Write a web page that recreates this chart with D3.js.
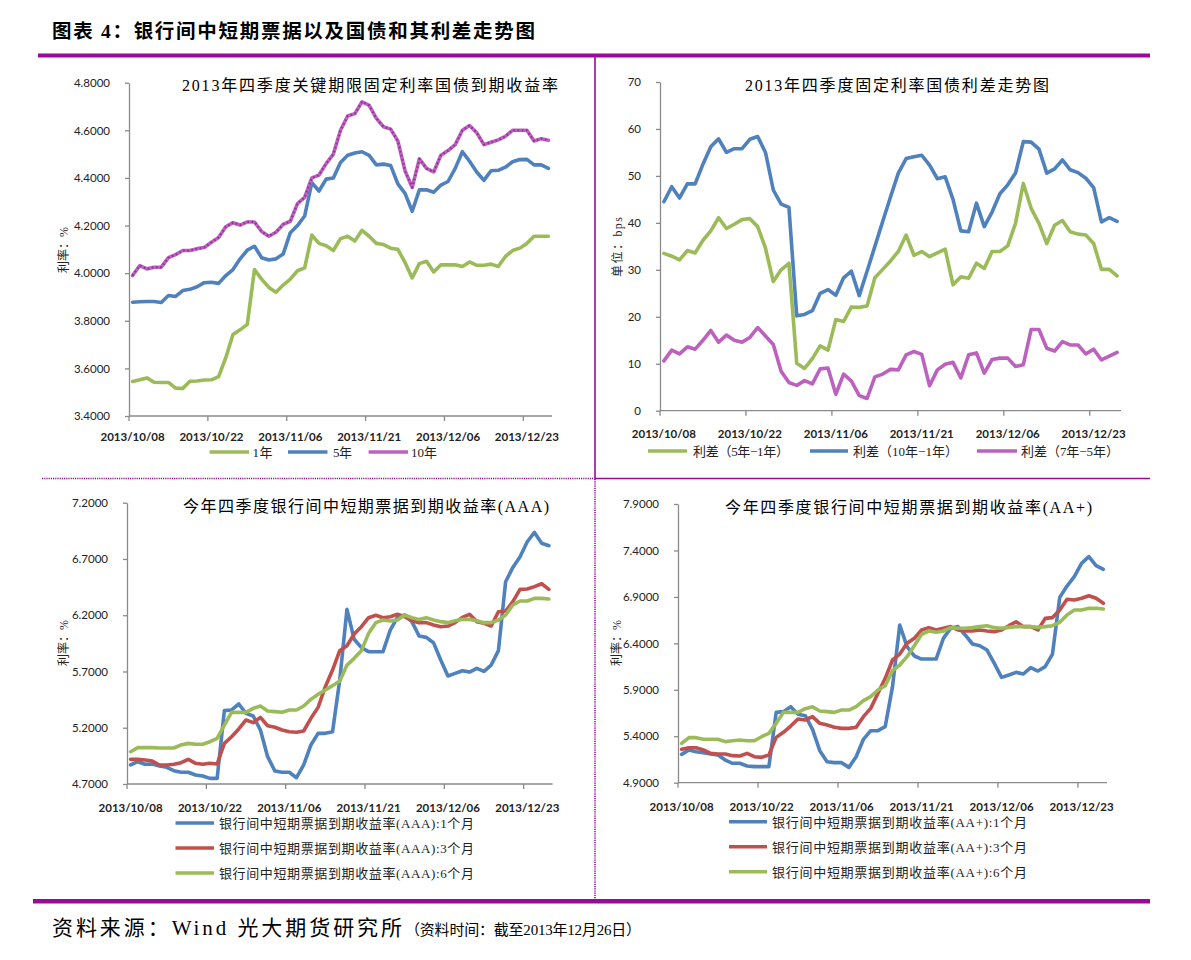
<!DOCTYPE html>
<html><head><meta charset="utf-8">
<script src="https://cdn.jsdelivr.net/npm/d3@7/dist/d3.min.js"></script>
<style>body{margin:0;background:#fff}svg{display:block}</style>
</head><body>
<svg id="c" width="1191" height="960"></svg>
<script>
// ---------------- DATA ----------------
const dates = ["2013/10/08","2013/10/09","2013/10/10","2013/10/11","2013/10/12","2013/10/14","2013/10/15","2013/10/16","2013/10/17","2013/10/18","2013/10/21","2013/10/22","2013/10/23","2013/10/24","2013/10/25","2013/10/28","2013/10/29","2013/10/30","2013/10/31","2013/11/01","2013/11/04","2013/11/05","2013/11/06","2013/11/07","2013/11/08","2013/11/11","2013/11/12","2013/11/13","2013/11/14","2013/11/15","2013/11/18","2013/11/19","2013/11/20","2013/11/21","2013/11/22","2013/11/25","2013/11/26","2013/11/27","2013/11/28","2013/11/29","2013/12/02","2013/12/03","2013/12/04","2013/12/05","2013/12/06","2013/12/09","2013/12/10","2013/12/11","2013/12/12","2013/12/13","2013/12/16","2013/12/17","2013/12/18","2013/12/19","2013/12/20","2013/12/23","2013/12/24","2013/12/25","2013/12/26"];
const tickDates = ["2013/10/08","2013/10/22","2013/11/06","2013/11/21","2013/12/06","2013/12/23"];

// Panel 1: treasury yields (%)
const bond1y = [3.545,3.552,3.560,3.542,3.541,3.541,3.517,3.516,3.546,3.547,3.551,3.552,3.565,3.645,3.742,3.762,3.785,4.015,3.975,3.940,3.920,3.950,3.975,4.010,4.022,4.160,4.125,4.115,4.095,4.145,4.155,4.135,4.180,4.155,4.125,4.120,4.105,4.100,4.045,3.980,4.040,4.050,4.005,4.035,4.035,4.035,4.028,4.047,4.033,4.033,4.038,4.028,4.070,4.095,4.105,4.125,4.155,4.155,4.155];
const bond5y = [3.878,3.880,3.881,3.881,3.877,3.906,3.902,3.927,3.932,3.943,3.960,3.962,3.957,3.990,4.015,4.060,4.097,4.113,4.065,4.055,4.060,4.080,4.170,4.200,4.240,4.380,4.345,4.395,4.400,4.465,4.495,4.505,4.510,4.495,4.455,4.458,4.452,4.375,4.335,4.260,4.350,4.350,4.340,4.370,4.385,4.440,4.510,4.470,4.425,4.390,4.430,4.432,4.445,4.468,4.477,4.478,4.455,4.455,4.440];
const bond10y = [3.990,4.032,4.018,4.025,4.025,4.065,4.078,4.095,4.095,4.103,4.108,4.130,4.150,4.195,4.212,4.202,4.215,4.215,4.175,4.155,4.172,4.205,4.218,4.292,4.318,4.400,4.412,4.460,4.500,4.600,4.660,4.670,4.720,4.705,4.650,4.615,4.605,4.555,4.430,4.360,4.480,4.440,4.425,4.495,4.515,4.540,4.600,4.620,4.590,4.540,4.550,4.560,4.575,4.600,4.600,4.600,4.555,4.565,4.558];

// Panel 2: spreads (bps)
const spread5y1y = [33.5,32.9,32.1,34.1,33.6,36.3,38.3,41.1,38.8,39.7,40.7,40.9,39.2,34.6,27.5,30.0,31.4,10.1,9.0,11.1,13.8,12.9,19.4,19.0,22.1,22.0,22.3,28.3,30.1,31.9,33.9,37.4,33.1,33.9,32.8,33.6,34.4,26.8,28.5,28.2,31.4,30.3,33.9,33.9,35.1,39.9,48.4,43.1,39.9,35.6,39.5,40.5,38.1,37.6,37.4,35.6,30.1,30.1,28.7];
const spread10y1y = [44.5,47.7,45.3,48.3,48.3,52.5,56.2,57.9,55.0,55.8,55.8,57.8,58.4,55.0,47.0,44.0,43.3,20.2,20.5,21.3,25.0,25.8,24.6,28.3,29.7,24.5,29.7,35.0,40.3,45.5,50.6,53.7,54.1,54.4,52.3,49.4,49.8,45.0,38.3,38.1,44.2,39.2,42.3,46.2,48.1,50.6,57.3,57.2,55.7,50.6,51.5,53.4,51.3,50.7,49.5,47.5,40.2,41.1,40.3];
const spread7y5y = [10.6,12.9,12.1,13.6,13.1,15.0,17.1,14.6,16.1,15.0,14.6,15.6,17.7,15.9,14.1,8.4,6.0,5.4,6.4,5.7,8.9,9.1,3.5,7.8,6.3,3.2,2.6,7.2,7.8,8.8,8.7,11.9,12.6,12.0,5.3,8.7,9.9,10.3,7.0,11.9,12.3,8.0,10.9,11.2,11.2,9.4,9.8,17.3,17.3,13.3,12.7,14.7,14.0,14.0,12.1,13.1,10.8,11.6,12.4];

// Panel 3: AAA short-term note yields (%)
const aaa1m = [4.869,4.898,4.875,4.878,4.860,4.848,4.818,4.804,4.804,4.780,4.771,4.750,4.750,5.352,5.358,5.411,5.328,5.304,5.180,4.943,4.816,4.804,4.804,4.756,4.869,5.047,5.150,5.150,5.165,5.624,6.252,5.986,5.912,5.876,5.876,5.876,6.068,6.181,6.202,6.143,6.015,6.003,5.956,5.802,5.660,5.683,5.707,5.695,5.728,5.701,5.757,5.885,6.498,6.625,6.720,6.853,6.936,6.839,6.818];
const aaa3m = [4.919,4.919,4.913,4.904,4.869,4.869,4.875,4.889,4.919,4.884,4.875,4.884,4.878,5.061,5.120,5.189,5.269,5.245,5.292,5.218,5.204,5.180,5.165,5.160,5.171,5.284,5.381,5.565,5.713,5.885,5.929,6.033,6.098,6.178,6.199,6.178,6.187,6.208,6.187,6.151,6.134,6.134,6.113,6.098,6.104,6.134,6.181,6.208,6.143,6.128,6.104,6.231,6.237,6.320,6.430,6.433,6.454,6.480,6.430];
const aaa6m = [4.987,5.023,5.023,5.023,5.020,5.020,5.020,5.047,5.061,5.053,5.053,5.076,5.106,5.224,5.337,5.337,5.337,5.372,5.393,5.349,5.343,5.337,5.358,5.358,5.393,5.452,5.497,5.535,5.574,5.615,5.757,5.817,5.885,6.039,6.134,6.157,6.148,6.157,6.202,6.178,6.163,6.178,6.157,6.143,6.134,6.151,6.163,6.163,6.151,6.134,6.134,6.157,6.202,6.291,6.326,6.326,6.350,6.350,6.344];

// Panel 4: AA+ short-term note yields (%)
const aap1m = [5.205,5.252,5.234,5.223,5.209,5.198,5.144,5.109,5.109,5.080,5.073,5.073,5.073,5.657,5.665,5.718,5.636,5.621,5.474,5.245,5.126,5.116,5.116,5.065,5.180,5.367,5.460,5.460,5.503,5.934,6.598,6.364,6.264,6.231,6.231,6.231,6.454,6.562,6.580,6.490,6.393,6.375,6.328,6.185,6.034,6.059,6.088,6.070,6.138,6.102,6.149,6.285,6.895,7.017,7.118,7.261,7.333,7.236,7.197];
const aap3m = [5.259,5.277,5.277,5.252,5.216,5.209,5.209,5.191,5.187,5.216,5.180,5.173,5.198,5.388,5.442,5.510,5.586,5.575,5.611,5.539,5.521,5.496,5.485,5.485,5.496,5.611,5.700,5.862,6.023,6.221,6.285,6.400,6.454,6.544,6.569,6.544,6.562,6.580,6.544,6.533,6.533,6.544,6.533,6.526,6.544,6.590,6.633,6.580,6.580,6.544,6.669,6.677,6.759,6.874,6.867,6.885,6.913,6.885,6.831];
const aap6m = [5.324,5.385,5.385,5.367,5.367,5.367,5.342,5.352,5.360,5.352,5.352,5.395,5.431,5.539,5.657,5.657,5.657,5.697,5.718,5.672,5.665,5.657,5.682,5.682,5.718,5.783,5.826,5.898,5.945,6.106,6.167,6.257,6.375,6.497,6.533,6.519,6.533,6.569,6.562,6.562,6.569,6.580,6.590,6.569,6.562,6.572,6.580,6.580,6.580,6.572,6.580,6.590,6.626,6.705,6.759,6.759,6.777,6.777,6.770];

const yTicks1 = [3.4,3.6,3.8,4.0,4.2,4.4,4.6,4.8];
const yTicks2 = [0,10,20,30,40,50,60,70];
const yTicks3 = [4.7,5.2,5.7,6.2,6.7,7.2];
const yTicks4 = [4.9,5.4,5.9,6.4,6.9,7.4,7.9];

const headerTitle = "图表 4：银行间中短期票据以及国债和其利差走势图";
const footerMain = "资料来源：Wind 光大期货研究所";
const footerNote = "（资料时间：截至2013年12月26日）";

// ---------------- STYLE / LAYOUT ----------------
const C = {blue:"#4F81BD", red:"#C0504D", green:"#9BBB59", mag:"#BC62BE", purple:"#9A0A99", axis:"#8A8A8A"};
const numFont = "Lato, 'Open Sans', sans-serif";
const cjkFont = "'Liberation Serif','Noto Sans CJK SC',serif";

const svg = d3.select("#c");

// frame
svg.append("text").attr("x",52).attr("y",38).attr("font-family",cjkFont).attr("font-weight","bold")
  .attr("font-size",19.5).attr("fill","#000").attr("textLength",483).attr("lengthAdjust","spacing").text(headerTitle);
svg.append("rect").attr("x",38).attr("y",53.5).attr("width",1112).attr("height",4).attr("fill",C.purple);
svg.append("rect").attr("x",33).attr("y",899).attr("width",1117).attr("height",4.5).attr("fill",C.purple);
svg.append("line").attr("x1",595).attr("x2",595).attr("y1",57).attr("y2",478).attr("stroke",C.purple).attr("stroke-width",1.6);
svg.append("line").attr("x1",595).attr("x2",595).attr("y1",479).attr("y2",899).attr("stroke",C.purple).attr("stroke-width",1.6).attr("stroke-dasharray","1.2,1");
svg.append("line").attr("x1",595).attr("x2",1150).attr("y1",478.5).attr("y2",478.5).attr("stroke",C.purple).attr("stroke-width",1.6);
svg.append("line").attr("x1",42).attr("x2",595).attr("y1",478.5).attr("y2",478.5).attr("stroke",C.purple).attr("stroke-width",1.6).attr("stroke-dasharray","1.2,1");

svg.append("text").attr("x",52).attr("y",935).attr("font-family",cjkFont).attr("fill","#000")
  .attr("font-size",21).attr("textLength",350).attr("lengthAdjust","spacing").text(footerMain);
svg.append("text").attr("x",405).attr("y",935).attr("font-family",cjkFont).attr("fill","#000")
  .attr("font-size",15).attr("textLength",236).attr("lengthAdjust","spacing").text(footerNote);

function panel(cfg){
  const g = svg.append("g");
  const x = d3.scaleBand().domain(dates).range([cfg.left, cfg.right]).paddingInner(0).paddingOuter(0);
  const y = d3.scaleLinear().domain(cfg.yDomain).range([cfg.bottom, cfg.top]);
  const cx = d => x(d) + x.bandwidth()/2;

  // y axis
  const ya = g.append("g").attr("transform",`translate(${cfg.left},0)`)
    .call(d3.axisLeft(y).tickValues(cfg.yTicks).tickFormat(cfg.fmt).tickSize(4).tickPadding(15).tickSizeOuter(0));
  ya.select(".domain").attr("stroke",C.axis).attr("stroke-width",1.3);
  ya.selectAll(".tick line").attr("stroke",C.axis).attr("stroke-width",1.3);
  ya.selectAll("text").attr("font-family",numFont).attr("font-size",11.5).attr("fill","#222");

  // x axis
  const xa = g.append("g");
  xa.append("line").attr("x1",cfg.left).attr("x2",cfg.right).attr("y1",cfg.bottom).attr("y2",cfg.bottom)
    .attr("stroke",C.axis).attr("stroke-width",1.3);
  xa.selectAll("line.t").data(tickDates).join("line").attr("class","t")
    .attr("x1",d=>x(d)).attr("x2",d=>x(d)).attr("y1",cfg.bottom).attr("y2",cfg.bottom+5)
    .attr("stroke",C.axis).attr("stroke-width",1.3);
  xa.selectAll("text").data(tickDates).join("text")
    .attr("x",d=>cx(d)).attr("y",cfg.xLabelY).attr("text-anchor","middle")
    .attr("font-family",numFont).attr("font-size",11.5).attr("font-weight","bold").attr("fill","#222").text(d=>d);

  // title
  g.append("text").attr("x",cfg.titleX).attr("y",cfg.titleY).attr("text-anchor","middle")
    .attr("font-family",cjkFont).attr("font-size",16).attr("fill","#000")
    .attr("textLength",cfg.titleW).attr("lengthAdjust","spacing").text(cfg.title);

  // y axis title
  g.append("text").attr("transform",`translate(${cfg.yTitleX},${cfg.yTitleY}) rotate(-90)`)
    .attr("text-anchor","middle").attr("font-family",cjkFont).attr("font-size",12).attr("fill","#222")
    .attr("textLength",cfg.yTitleW).attr("lengthAdjust","spacing").text(cfg.yTitle);

  // lines
  cfg.series.forEach(s=>{
    const line = d3.line().x((d,i)=>cx(dates[i])).y(d=>y(d));
    g.append("path").datum(s.values).attr("d",line).attr("fill","none").attr("stroke",s.color)
      .attr("stroke-width",3.6).attr("stroke-linejoin","round").attr("stroke-linecap","round");
    if (s.dots) {
      g.append("path").datum(s.values).attr("d",line).attr("fill","none").attr("stroke",s.dots)
        .attr("stroke-width",2.2).attr("stroke-dasharray","1.6,2.6").attr("stroke-linejoin","round");
    }
  });

  // legend
  cfg.legend.forEach((l,k)=>{
    const s = cfg.series[k];
    g.append("line").attr("x1",l.x1).attr("x2",l.x2).attr("y1",l.y).attr("y2",l.y)
      .attr("stroke",s.color).attr("stroke-width",3.6);
    g.append("text").attr("x",l.tx).attr("y",l.y+5).attr("font-family",cjkFont).attr("font-size",13)
      .attr("fill","#222").attr("textLength",l.tw).attr("lengthAdjust","spacing").text(s.name);
  });
}

panel({left:129,right:552,top:82.7,bottom:416,yDomain:[3.4,4.8],yTicks:yTicks1,fmt:d3.format(".4f"),
  xLabelY:441, title:"2013年四季度关键期限固定利率国债到期收益率", titleX:370, titleY:91, titleW:376,
  yTitle:"利率：%", yTitleX:68, yTitleY:250, yTitleW:46,
  series:[{name:"1年",values:bond1y,color:C.green},{name:"5年",values:bond5y,color:C.blue},{name:"10年",values:bond10y,color:C.mag,dots:"#93319A"}],
  legend:[{x1:209.6,x2:249,y:452,tx:252.5,tw:20},{x1:288,x2:327.5,y:452,tx:333,tw:19},{x1:368.6,x2:408,y:452,tx:411,tw:26}]});

panel({left:660,right:1121,top:82,bottom:410.7,yDomain:[0,70],yTicks:yTicks2,fmt:d3.format("d"),
  xLabelY:438, title:"2013年四季度固定利率国债利差走势图", titleX:897, titleY:91, titleW:304,
  yTitle:"单位：bps", yTitleX:622, yTitleY:247, yTitleW:60,
  series:[{name:"利差（5年−1年）",values:spread5y1y,color:C.green},{name:"利差（10年−1年）",values:spread10y1y,color:C.blue},{name:"利差（7年−5年）",values:spread7y5y,color:C.mag}],
  legend:[{x1:648,x2:687,y:451,tx:693,tw:96},{x1:810,x2:848,y:451,tx:853,tw:105},{x1:977,x2:1017,y:451,tx:1021,tw:98}]});

panel({left:127,right:552.5,top:502.7,bottom:784,yDomain:[4.7,7.2],yTicks:yTicks3,fmt:d3.format(".4f"),
  xLabelY:812, title:"今年四季度银行间中短期票据到期收益率(AAA)", titleX:366, titleY:512, titleW:366,
  yTitle:"利率：%", yTitleX:68, yTitleY:643, yTitleW:46,
  series:[{name:"银行间中短期票据到期收益率(AAA):1个月",values:aaa1m,color:C.blue},{name:"银行间中短期票据到期收益率(AAA):3个月",values:aaa3m,color:C.red},{name:"银行间中短期票据到期收益率(AAA):6个月",values:aaa6m,color:C.green}],
  legend:[{x1:175.5,x2:214,y:823,tx:219,tw:255},{x1:175.5,x2:214,y:848,tx:219,tw:255},{x1:175.5,x2:214,y:873,tx:219,tw:255}]});

panel({left:678,right:1107,top:504,bottom:782.7,yDomain:[4.9,7.9],yTicks:yTicks4,fmt:d3.format(".4f"),
  xLabelY:811, title:"今年四季度银行间中短期票据到期收益率(AA+)", titleX:908.5, titleY:513, titleW:367,
  yTitle:"利率：%", yTitleX:621, yTitleY:643, yTitleW:46,
  series:[{name:"银行间中短期票据到期收益率(AA+):1个月",values:aap1m,color:C.blue},{name:"银行间中短期票据到期收益率(AA+):3个月",values:aap3m,color:C.red},{name:"银行间中短期票据到期收益率(AA+):6个月",values:aap6m,color:C.green}],
  legend:[{x1:729,x2:767,y:821.7,tx:772,tw:255},{x1:729,x2:767,y:846.7,tx:772,tw:255},{x1:729,x2:767,y:871.7,tx:772,tw:255}]});
</script>
</body></html>
